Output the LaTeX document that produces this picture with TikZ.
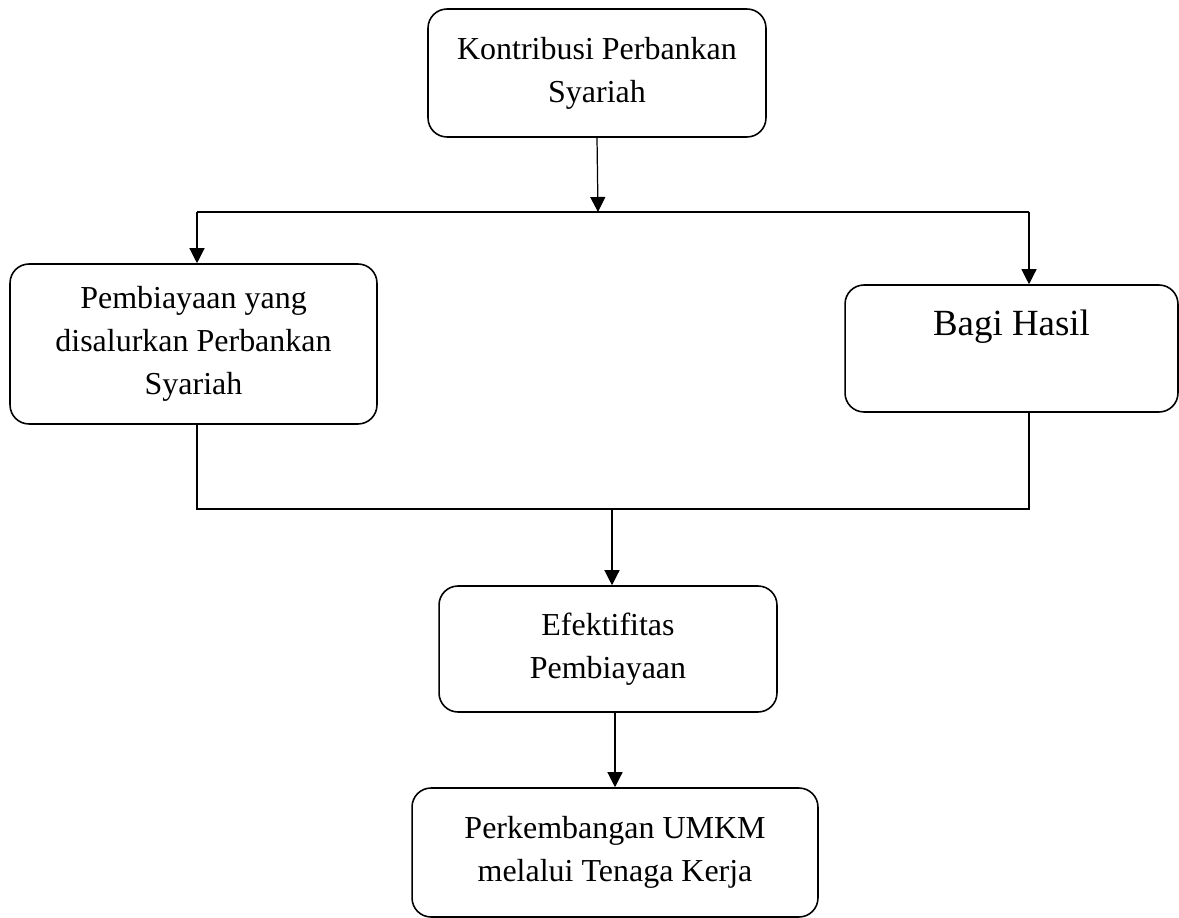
\documentclass[tikz,border=0pt]{standalone}
\usepackage{fontspec}
\setmainfont{Liberation Serif}
\usetikzlibrary{arrows.meta}

\begin{document}
\begin{tikzpicture}[x=0.02cm, y=-0.02cm,
  kotak/.style={shape=rectangle, draw=black, line width=0.9pt, rounded corners=0.38cm, align=center, font=\fontsize{18.2}{24.5}\selectfont},
  panah/.style={-{Triangle[length=0.3cm,width=0.3cm]}, line width=0.7pt, draw=black}]
\useasboundingbox (0,0) rectangle (1179,918);
\node[kotak, minimum width=6.76cm, minimum height=2.56cm] (K) at (597,73) {Kontribusi Perbankan\\Syariah};
\node[kotak, minimum width=7.34cm, minimum height=3.2cm] (P) at (193.5,344) {Pembiayaan yang\\disalurkan Perbankan\\Syariah};
\node[kotak, minimum width=6.66cm, minimum height=2.54cm, font=\fontsize{21}{25}\selectfont, text height=0.5cm, text depth=1.04cm] (B) at (1011.5,348.5) {Bagi Hasil};
\node[kotak, minimum width=6.76cm, minimum height=2.52cm] (E) at (608,649) {Efektifitas\\Pembiayaan};
\node[kotak, minimum width=8.12cm, minimum height=2.58cm] (U) at (615,852.5) {Perkembangan UMKM\\melalui Tenaga Kerja};
\coordinate (atas) at (598,212);
\coordinate (kiri1) at (197,212);
\coordinate (kanan1) at (1029,212);
\coordinate (kiri2) at (197,509);
\coordinate (kanan2) at (1029,509);
\coordinate (bawah) at (612,509);
\draw [panah] (K.south) -- (atas);
\draw [line width=0.7pt] (kiri1) -- (kanan1);
\draw [panah] (kiri1) -- (kiri1 |- P.north);
\draw [panah] (kanan1) -- (kanan1 |- B.north);
\draw [line width=0.7pt] (kiri2 |- P.south) -- (kiri2) -- (kanan2) -- (kanan2 |- B.south);
\draw [panah] (bawah) -- (bawah |- E.north);
\draw [panah] (E.south -| U.north) -- (U.north);
\end{tikzpicture}
\end{document}
